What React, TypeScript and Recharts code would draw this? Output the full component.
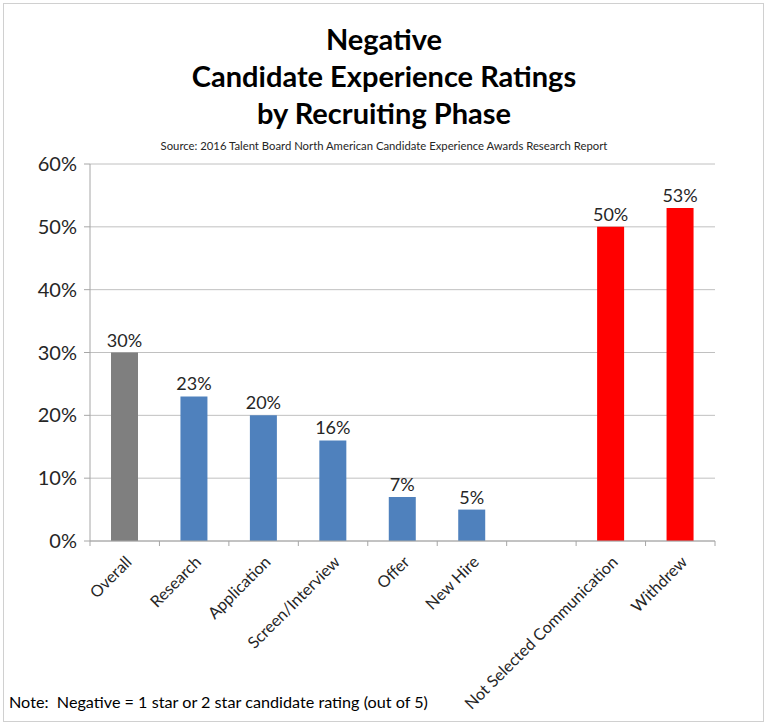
import React from 'react';
import {
  BarChart,
  Bar,
  XAxis,
  YAxis,
  CartesianGrid,
  Cell,
  LabelList,
} from 'recharts';

const categories = [
  'Overall',
  'Research',
  'Application',
  'Screen/Interview',
  'Offer',
  'New Hire',
  '',
  'Not Selected Communication',
  'Withdrew',
];
const values: (number | null)[] = [30, 23, 20, 16, 7, 5, null, 50, 53];
const barColors = ['#7f7f7f', '#4f81bd', '#4f81bd', '#4f81bd', '#4f81bd', '#4f81bd', '#4f81bd', '#ff0000', '#ff0000'];
const yTicks = [0, 10, 20, 30, 40, 50, 60];

const data = categories.map((name, i) => ({ name, value: values[i] }));

const W = 768;
const H = 726;
const PLOT_LEFT = 90;
const PLOT_RIGHT = 715;
const FONT = 'Lato, "Open Sans", sans-serif';
const bandWidth = (PLOT_RIGHT - PLOT_LEFT) / categories.length;

const CategoryTick = (props: any) => {
  const { x, y, payload, index } = props;
  const left = x - bandWidth / 2;
  const tx = x - 1;
  const ty = y + 5;
  return (
    <g>
      <line x1={left} x2={left} y1={y - 8} y2={y - 3} stroke="#a6a6a6" />
      {index === categories.length - 1 && (
        <line x1={x + bandWidth / 2} x2={x + bandWidth / 2} y1={y - 8} y2={y - 3} stroke="#a6a6a6" />
      )}
      <text
        x={tx}
        y={ty}
        transform={`rotate(-45, ${tx}, ${ty})`}
        textAnchor="end"
        dominantBaseline="hanging"
        fontSize={16.2}
        fill="#262626"
        fontFamily={FONT}
      >
        {payload.value}
      </text>
    </g>
  );
};

export default function App() {
  return (
    <div
      style={{
        position: 'absolute',
        left: 0,
        top: 0,
        width: W,
        height: H,
        background: '#fff',
        fontFamily: FONT,
      }}
    >
      <div
        style={{
          position: 'absolute',
          left: 3,
          top: 3,
          width: W - 9,
          height: H - 9,
          border: '1px solid #d0d0d0',
        }}
      />
      <div
        style={{
          position: 'absolute',
          left: 0,
          top: 20,
          width: W,
          textAlign: 'center',
          fontWeight: 'bold',
          fontSize: 29,
          lineHeight: '37px',
          color: '#000',
        }}
      >
        Negative
        <br />
        Candidate Experience Ratings
        <br />
        by Recruiting Phase
      </div>
      <div
        style={{
          position: 'absolute',
          left: 0,
          top: 139,
          width: W,
          textAlign: 'center',
          fontSize: 11.3,
          color: '#262626',
        }}
      >
        Source: 2016 Talent Board North American Candidate Experience Awards Research Report
      </div>
      <div style={{ position: 'absolute', left: 0, top: 0 }}>
        <BarChart
          width={W}
          height={H}
          data={data}
          margin={{ top: 164, right: W - PLOT_RIGHT, left: 30, bottom: 35 }}
          barSize={27}
        >
          <CartesianGrid vertical={false} stroke="#c0c0c0" />
          <XAxis
            dataKey="name"
            interval={0}
            height={150}
            tickLine={false}
            axisLine={{ stroke: '#a6a6a6' }}
            tick={<CategoryTick />}
          />
          <YAxis
            width={60}
            domain={[0, 60]}
            ticks={yTicks}
            tickFormatter={(v) => `${v}%`}
            tickLine={{ stroke: '#a6a6a6' }}
            tickSize={6}
            axisLine={{ stroke: '#a6a6a6' }}
            tick={{ fontSize: 20, fill: '#262626', fontFamily: FONT, dx: -5 }}
          />
          <Bar dataKey="value" isAnimationActive={false}>
            {data.map((d, i) => (
              <Cell key={i} fill={barColors[i]} />
            ))}
            <LabelList
              dataKey="value"
              position="top"
              offset={6}
              formatter={(v: any) => (v == null ? '' : `${v}%`)}
              style={{ fontSize: 18, fill: '#262626', fontFamily: FONT }}
            />
          </Bar>
        </BarChart>
      </div>
      <div
        style={{
          position: 'absolute',
          left: 9,
          top: 692,
          fontSize: 16.2,
          color: '#000',
        }}
      >
        Note:&nbsp; Negative = 1 star or 2 star candidate rating (out of 5)
      </div>
    </div>
  );
}
